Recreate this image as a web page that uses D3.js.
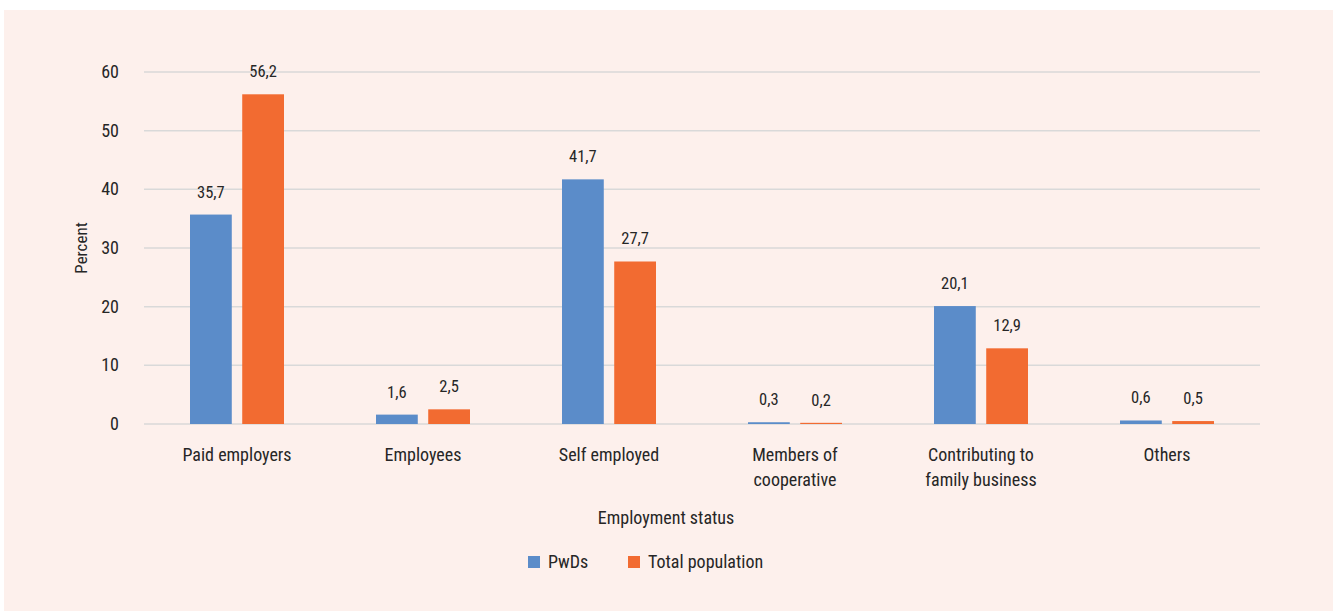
<!DOCTYPE html>
<html>
<head>
<meta charset="utf-8">
<script src="https://cdn.jsdelivr.net/npm/d3@7"></script>
<style>
  html, body { margin: 0; padding: 0; background: #fff; }
  #chart { width: 1333px; height: 611px; }
  text { font-family: "Roboto Condensed", "Liberation Sans Narrow", Roboto, sans-serif; font-weight: 400; fill: #262626; }
</style>
</head>
<body>
<div id="chart"></div>
<script>
/* Employment status chart — D3 v7 */
const categories = [['Paid employers'], ['Employees'], ['Self employed'], ['Members of', 'cooperative'], ['Contributing to', 'family business'], ['Others']];
const seriesNames = ['PwDs', 'Total population'];
const pwds = [35.7, 1.6, 41.7, 0.3, 20.1, 0.6];
const totalPop = [56.2, 2.5, 27.7, 0.2, 12.9, 0.5];
const yTicks = [0, 10, 20, 30, 40, 50, 60];

const colors = { blue: '#5b8cc9', orange: '#f26b31', grid: '#d9d9d9', bg: '#fdf0ec' };

function drawChart() {
    const el = document.getElementById('chart');
    el.innerHTML = '';
    const W = 1333, H = 611;
    const margin = { top: 72, right: 73, bottom: 187, left: 144 };
    const width = W - margin.left - margin.right;
    const height = H - margin.top - margin.bottom;

    const root = d3.select(el).append('svg').attr('width', W).attr('height', H);
    root.append('rect').attr('x', 4).attr('y', 10).attr('width', W - 4).attr('height', H - 10).attr('fill', colors.bg);

    const svg = root.append('g').attr('transform', `translate(${margin.left},${margin.top})`);

    const keys = categories.map((c, i) => i);
    const x = d3.scaleBand().domain(keys).range([0, width]).paddingInner(0).paddingOuter(0);
    const inner = d3.scaleBand().domain([0, 1]).range([46, x.bandwidth() - 46]).paddingInner(0.2);
    const y = d3.scaleLinear().domain([0, 60]).range([height, 0]);

    // gridlines
    svg.append('g').selectAll('line').data(yTicks).enter().append('line')
        .attr('x1', 0).attr('x2', width)
        .attr('y1', d => y(d)).attr('y2', d => y(d))
        .attr('stroke', colors.grid).attr('stroke-width', 1.5);

    // y tick labels
    svg.append('g').selectAll('text').data(yTicks).enter().append('text')
        .attr('x', -25).attr('y', d => y(d) + 6)
        .attr('text-anchor', 'end').attr('font-size', '18px')
        .text(d => d);

    const fmt = v => String(v).replace('.', ',');
    const rows = keys.map(i => [pwds[i], totalPop[i]]);
    const groups = svg.selectAll('.grp').data(rows).enter().append('g')
        .attr('transform', (d, i) => `translate(${x(i)},0)`);

    groups.selectAll('rect').data(d => d).enter().append('rect')
        .attr('x', (d, j) => inner(j)).attr('width', inner.bandwidth())
        .attr('y', d => y(d)).attr('height', d => Math.max(0, height - y(d)))
        .attr('fill', (d, j) => j === 0 ? colors.blue : colors.orange);

    groups.selectAll('.val').data(d => d).enter().append('text')
        .attr('x', (d, j) => inner(j) + inner.bandwidth() / 2)
        .attr('y', d => y(d) - 17)
        .attr('text-anchor', 'middle').attr('font-size', '16.5px')
        .text(d => fmt(d));

    // category labels
    const catG = svg.append('g').selectAll('text').data(categories).enter().append('text')
        .attr('x', (d, i) => x(i) + x.bandwidth() / 2)
        .attr('y', height + 37)
        .attr('text-anchor', 'middle').attr('font-size', '18px');
    catG.selectAll('tspan').data(d => d).enter().append('tspan')
        .attr('x', function() { return d3.select(this.parentNode).attr('x'); })
        .attr('dy', (d, i) => i === 0 ? 0 : 25)
        .text(d => d);

    // axis titles
    root.append('text').attr('transform', 'translate(87,248) rotate(-90)')
        .attr('text-anchor', 'middle').attr('font-size', '17px').text('Percent');
    root.append('text').attr('x', 666).attr('y', 524)
        .attr('text-anchor', 'middle').attr('font-size', '18px').text('Employment status');

    // legend
    const legendX = [528, 628];
    const legend = root.append('g').selectAll('g').data(seriesNames).enter().append('g')
        .attr('transform', (d, i) => `translate(${legendX[i]},556)`);
    legend.append('rect').attr('width', 12).attr('height', 12)
        .attr('fill', (d, i) => i === 0 ? colors.blue : colors.orange);
    legend.append('text').attr('x', 20).attr('y', 12).attr('font-size', '18px').text(d => d);
}

drawChart();
</script>
</body>
</html>
